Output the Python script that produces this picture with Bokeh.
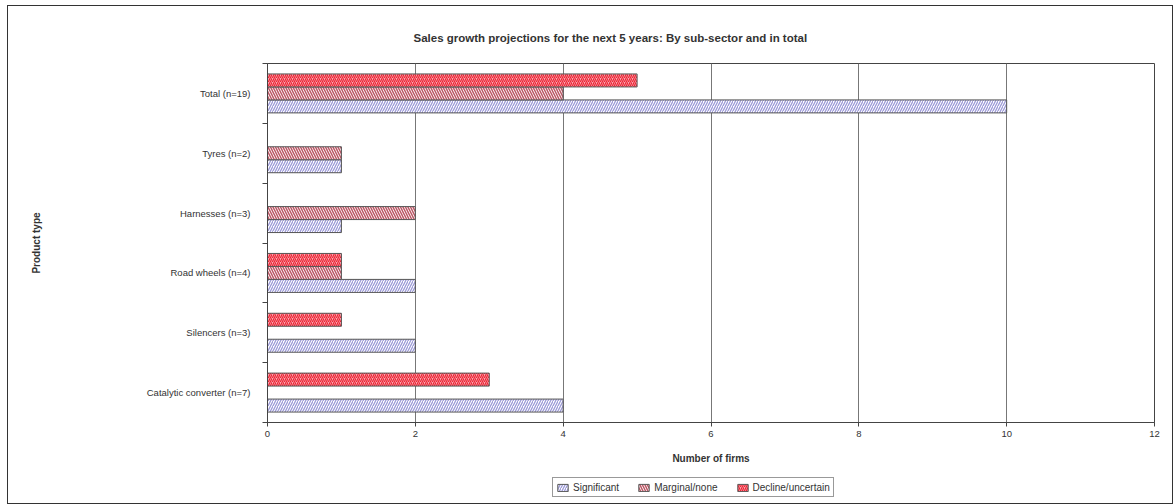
from bokeh.plotting import figure
from bokeh.layouts import column
from bokeh.models import Range1d, FixedTicker, Legend, LegendItem, ColumnDataSource, Title
from bokeh.embed import file_html
from bokeh.resources import INLINE

# Data (categories listed bottom to top)
categories = ["Catalytic converter (n=7)", "Silencers (n=3)", "Road wheels (n=4)",
              "Harnesses (n=3)", "Tyres (n=2)", "Total (n=19)"]
significant = [4, 2, 2, 1, 1, 10]
marginal = [0, 0, 1, 2, 1, 4]
decline = [3, 1, 1, 0, 0, 5]
series_names = ["Significant", "Marginal/none", "Decline/uncertain"]
x_ticks = [0, 2, 4, 6, 8, 10, 12]

FONT = "Liberation Sans"
TXT = "#333333"

p = figure(frame_width=887, frame_height=359, x_range=Range1d(0, 12),
           y_range=Range1d(0, len(categories)),
           output_backend="svg", toolbar_location=None,
           min_border_left=259, min_border_right=18, min_border_top=57, min_border_bottom=44)

t = Title(text="Sales growth projections for the next 5 years: By sub-sector and in total",
          align="left", text_font=FONT, text_font_size="11.5px", text_font_style="bold",
          text_color=TXT, standoff=40, offset=146)
p.add_layout(t, "above")

p.outline_line_color = "#444444"
p.outline_line_width = 1
p.background_fill_color = "white"
p.border_fill_color = "white"

# bar styles
centers = [i + 0.5 for i in range(len(categories))]
bar_h = 0.217
styles = [
    dict(fill_color="white", hatch_pattern="/", hatch_color="#9c9ad8",
         hatch_scale=5, hatch_weight=1.3, line_color="#555555", line_width=1),
    dict(fill_color="white", hatch_pattern="\\", hatch_color="#bc5866",
         hatch_scale=5, hatch_weight=1.5, line_color="#555555", line_width=1),
    dict(fill_color="#f9a8b0", hatch_pattern="/", hatch_color="#ec2434",
         hatch_scale=4, hatch_weight=1.2, line_color="#555555", line_width=1),
]
offsets = [-bar_h, 0.0, bar_h]
values = [significant, marginal, decline]

for vals, off, st in zip(values, offsets, styles):
    src = ColumnDataSource(dict(y=[c + off for c in centers], right=vals, cat=categories))
    p.hbar(y="y", right="right", left=0, height=bar_h, source=src, **st)

# axes
p.xaxis.ticker = FixedTicker(ticks=x_ticks)
p.xaxis.axis_label = "Number of firms"
p.xaxis.axis_label_text_font = FONT
p.xaxis.axis_label_text_font_style = "bold"
p.xaxis.axis_label_text_font_size = "10px"
p.xaxis.axis_label_text_color = TXT
p.xaxis.axis_label_standoff = 13
p.xaxis.major_label_text_font = FONT
p.xaxis.major_label_text_font_size = "9.5px"
p.xaxis.major_label_text_color = TXT
p.xaxis.major_label_standoff = 4
p.xaxis.major_tick_in = 0
p.xaxis.major_tick_out = 4
p.xaxis.minor_tick_line_color = None
p.xaxis.axis_line_color = "#444444"
p.xaxis.major_tick_line_color = "#444444"

p.yaxis.ticker = FixedTicker(ticks=centers, minor_ticks=list(range(len(categories) + 1)))
p.yaxis.major_label_overrides = {c: lab for c, lab in zip(centers, categories)}
p.yaxis.major_tick_in = 0
p.yaxis.major_tick_out = 0
p.yaxis.minor_tick_in = 0
p.yaxis.minor_tick_out = 5
p.yaxis.minor_tick_line_color = "#444444"
p.yaxis.axis_line_color = "#444444"
p.yaxis.major_label_text_font = FONT
p.yaxis.major_label_text_font_size = "9.5px"
p.yaxis.major_label_text_color = TXT
p.yaxis.major_label_standoff = 12
p.yaxis.axis_label = "Product type"
p.yaxis.axis_label_text_font = FONT
p.yaxis.axis_label_text_font_style = "bold"
p.yaxis.axis_label_text_font_size = "10px"
p.yaxis.axis_label_text_color = TXT
p.yaxis.axis_label_standoff = 102

p.xgrid.grid_line_color = "#777777"
p.xgrid.grid_line_width = 1
p.ygrid.grid_line_color = None

# legend strip (separate figure so the legend sits below the axis title)
lg = figure(width=1164, height=37, x_range=Range1d(0, 1), y_range=Range1d(0, 1),
            output_backend="svg", toolbar_location=None,
            min_border_left=0, min_border_right=0, min_border_top=0, min_border_bottom=0)
lg.axis.visible = False
lg.grid.visible = False
lg.outline_line_color = None
lg.background_fill_color = "white"
lg.border_fill_color = "white"
items = []
for name, st in zip(series_names, styles):
    # swatch renderer: one point placed outside the visible range
    r = lg.hbar(y=[-5], right=[1], left=0, height=0.5, **st)
    items.append(LegendItem(label=name, renderers=[r]))
legend = Legend(items=items, orientation="horizontal", location=(285, 6),
                label_text_font=FONT, label_text_font_size="10px", label_text_color=TXT,
                glyph_width=13, glyph_height=9, label_standoff=4, spacing=18,
                padding=3, margin=0, border_line_color="#333333", border_line_width=1,
                label_height=12, background_fill_alpha=1)
lg.add_layout(legend, "center")

layout = column(p, lg, spacing=0,
                styles={"margin-left": "7px", "margin-top": "5px", "border": "1px solid #333333"})

open("out.html", "w").write(file_html(layout, INLINE))
